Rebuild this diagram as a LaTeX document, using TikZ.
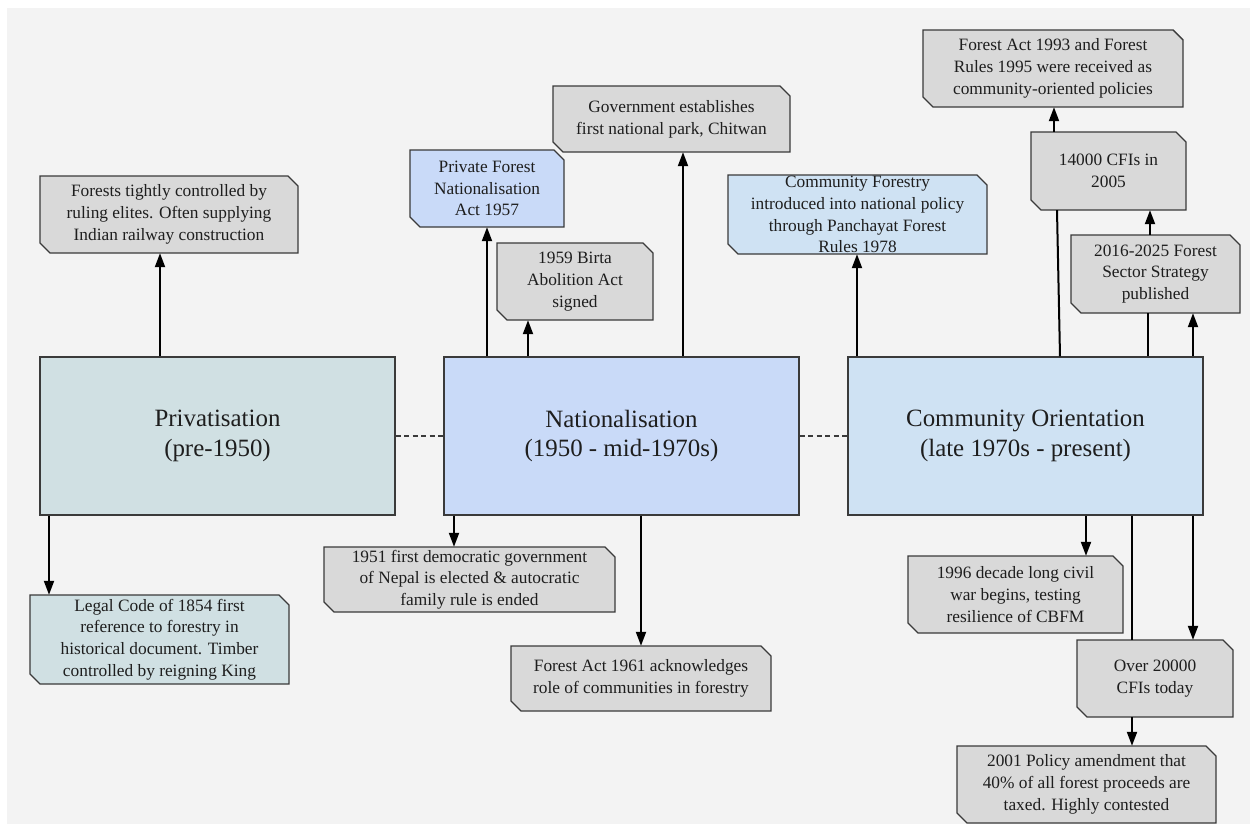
\documentclass[tikz,border=0pt]{standalone}
\usepackage{fontspec}
\setmainfont{Liberation Serif}
\usetikzlibrary{arrows.meta}

\definecolor{bgpanel}{HTML}{F3F3F3}
\definecolor{evgray}{HTML}{D9D9D9}
\definecolor{evteal}{HTML}{D0E0E3}
\definecolor{evblue}{HTML}{C9DAF8}
\definecolor{evsky}{HTML}{CFE2F3}
\definecolor{edge}{HTML}{3A3A3A}
\definecolor{ink}{HTML}{1E1E1E}

\tikzset{
  boxline/.style={draw=edge, line width=1.4bp},
  evtext/.style={inner sep=0pt, align=center, text=ink,
    font=\fontsize{17.4}{21.8}\selectfont},
  eratext/.style={inner sep=0pt, align=center, text=ink,
    font=\fontsize{25}{30}\selectfont},
  arr/.style={line width=2bp, draw=black, -{Triangle[length=14bp,width=10bp]}},
  link/.style={line width=2bp, draw=black},
  era link/.style={draw=edge, line width=1.3bp, dash pattern=on 5bp off 3.5bp},
}

% event box with the top-right and bottom-left corners cut off
% #1 name, #2 x1, #3 y1, #4 x2, #5 y2, #6 fill, #7 text
\newcommand\evbox[7]{%
  \filldraw[boxline, fill=#6] (#2,#3) -- ({#4-10},#3) -- (#4,{#3+10}) -- (#4,#5)
    -- ({#2+10},#5) -- (#2,{#5-10}) -- cycle;
  \node[evtext, minimum width={(#4-#2)*1bp}, minimum height={(#5-#3)*1bp}]
    (#1) at ({(#2+#4)/2},{(#3+#5)/2}) {#7};
}
% era box: plain rectangle
\newcommand\erabox[7]{%
  \node[eratext, boxline, fill=#6, minimum width={(#4-#2)*1bp}, minimum height={(#5-#3)*1bp}]
    (#1) at ({(#2+#4)/2},{(#3+#5)/2}) {#7};
}

\begin{document}
\begin{tikzpicture}[x=1bp, y=-1bp]
\useasboundingbox (0,0) rectangle (1250,824);
\fill[white] (0,0) rectangle (1250,824);
\fill[bgpanel] (7,8) rectangle (1250,824);

% eras
\erabox{priv}{40}{357}{395}{515}{evteal}{Privatisation\\(pre-1950)}
\erabox{nat}{444}{357}{799}{515}{evblue}{Nationalisation\\(1950 - mid-1970s)}
\erabox{comm}{848}{357}{1203}{515}{evsky}{Community Orientation\\(late 1970s - present)}

\draw[era link] (priv.east) -- (nat.west);
\draw[era link] (nat.east) -- (comm.west);

% events
\evbox{elite}{40}{176}{298}{253}{evgray}{Forests tightly controlled by\\ruling elites. Often supplying\\Indian railway construction}
\evbox{legal}{30}{595}{289}{684}{evteal}{Legal Code of 1854 first\\reference to forestry in\\historical document. Timber\\controlled by reigning King}
\evbox{pfna}{410}{150}{564}{227}{evblue}{Private Forest\\Nationalisation\\Act 1957}
\evbox{birta}{497}{243}{653}{320}{evgray}{1959 Birta\\Abolition Act\\signed}
\evbox{park}{553}{86}{790}{152}{evgray}{Government establishes\\first national park, Chitwan}
\evbox{demo}{324}{547}{615}{612}{evgray}{1951 first democratic government\\of Nepal is elected \& autocratic\\family rule is ended}
\evbox{fa61}{511}{646}{771}{711}{evgray}{Forest Act 1961 acknowledges\\role of communities in forestry}
\evbox{cf78}{728}{175}{987}{254}{evsky}{Community Forestry\\introduced into national policy\\through Panchayat Forest\\Rules 1978}
\evbox{fa93}{923}{30}{1183}{107}{evgray}{Forest Act 1993 and Forest\\Rules 1995 were received as\\community-oriented policies}
\evbox{cfi05}{1031}{132}{1186}{210}{evgray}{14000 CFIs in\\2005}
\evbox{strat}{1071}{235}{1240}{313}{evgray}{2016-2025 Forest\\Sector Strategy\\published}
\evbox{civil}{908}{556}{1123}{633}{evgray}{1996 decade long civil\\war begins, testing\\resilience of CBFM}
\evbox{cfi20}{1077}{640}{1233}{717}{evgray}{Over 20000\\CFIs today}
\evbox{pol01}{957}{746}{1216}{823}{evgray}{2001 Policy amendment that\\40\% of all forest proceeds are\\taxed. Highly contested}

% connectors
\draw[arr] (priv.north -| 160,0) -- (elite.south -| 160,0);
\draw[arr] (priv.south -| 49,0) -- (legal.north -| 49,0);

\draw[arr] (nat.north -| 487,0) -- (pfna.south -| 487,0);
\draw[arr] (nat.north -| 528,0) -- (birta.south -| 528,0);
\draw[arr] (nat.north -| 683,0) -- (park.south -| 683,0);
\draw[arr] (nat.south -| 454,0) -- (demo.north -| 454,0);
\draw[arr] (nat.south -| 641,0) -- (fa61.north -| 641,0);

\draw[arr] (comm.north -| 857,0) -- (cf78.south -| 857,0);
\draw[link] (comm.north -| 1060,0) -- (cfi05.south -| 1057,0);
\draw[arr] (cfi05.north -| 1054,0) -- (fa93.south -| 1054,0);
\draw[link] (comm.north -| 1148,0) -- (strat.south -| 1148,0);
\draw[arr] (strat.north -| 1150,0) -- (cfi05.south -| 1150,0);
\draw[arr] (comm.north -| 1193,0) -- (strat.south -| 1193,0);

\draw[arr] (comm.south -| 1086,0) -- (civil.north -| 1086,0);
\draw[link] (comm.south -| 1132,0) -- (cfi20.north -| 1132,0);
\draw[arr] (comm.south -| 1193,0) -- (cfi20.north -| 1193,0);
\draw[arr] (cfi20.south -| 1132,0) -- (pol01.north -| 1132,0);
\end{tikzpicture}
\end{document}
